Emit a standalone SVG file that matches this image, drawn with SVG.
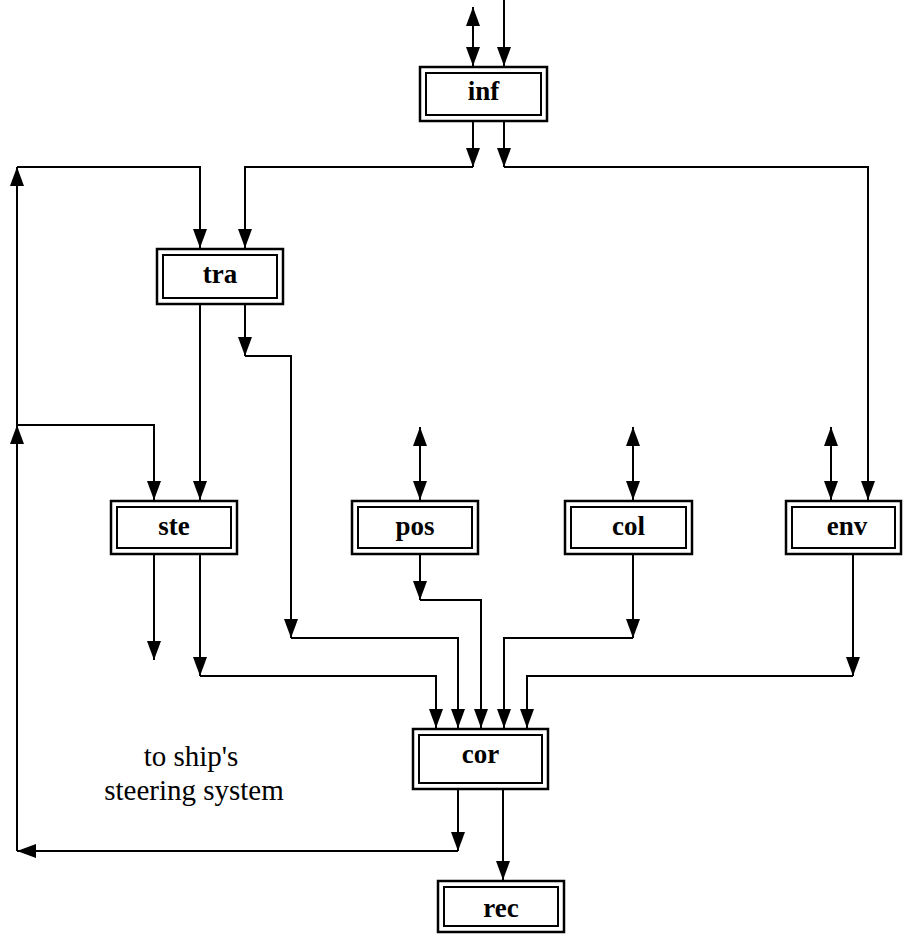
<svg xmlns="http://www.w3.org/2000/svg" width="904" height="935" viewBox="0 0 904 935">
<style>
.ob{fill:#fff;stroke:#000;stroke-width:2.5}
.ib{fill:none;stroke:#000;stroke-width:2}
.lbl{font-family:"Liberation Serif","Times New Roman",serif;font-weight:bold;font-size:27px;text-anchor:middle;fill:#000}
.note{font-family:"Liberation Serif","Times New Roman",serif;font-size:29px;text-anchor:middle;fill:#000}
.c{fill:none;stroke:#000;stroke-width:2}
.a{marker-end:url(#ah)}
.b{marker-start:url(#ah);marker-end:url(#ah)}
</style>
<defs>
<marker id="ah" markerUnits="userSpaceOnUse" markerWidth="19" markerHeight="14" refX="19" refY="7" orient="auto-start-reverse">
<path d="M0,0 L19,7 L0,14 z" fill="#000"/>
</marker>
</defs>
<rect width="904" height="935" fill="#fff"/>
<g id="connectors">
<line class="c b" x1="473" y1="7" x2="473" y2="66"/>
<line class="c a" x1="504" y1="0" x2="504" y2="66"/>
<line class="c a" x1="473" y1="122" x2="473" y2="167"/>
<line class="c a" x1="504" y1="122" x2="504" y2="167"/>
<polyline class="c a" points="473,167 245,167 245,248"/>
<polyline class="c a" points="504,167 868,167 868,500"/>
<line class="c a" x1="458" y1="790" x2="458" y2="851"/>
<line class="c a" x1="458" y1="851" x2="17" y2="851"/>
<line class="c a" x1="17" y1="851" x2="17" y2="425"/>
<line class="c a" x1="17" y1="425" x2="17" y2="167"/>
<polyline class="c a" points="17,167 200,167 200,248"/>
<polyline class="c a" points="17,425 154,425 154,500"/>
<line class="c a" x1="200" y1="305" x2="200" y2="500"/>
<line class="c a" x1="245" y1="305" x2="245" y2="356"/>
<polyline class="c a" points="245,356 291,356 291,638"/>
<polyline class="c a" points="291,638 458,638 458,728"/>
<line class="c a" x1="154" y1="555" x2="154" y2="660"/>
<line class="c a" x1="200" y1="555" x2="200" y2="676"/>
<polyline class="c a" points="200,676 436,676 436,728"/>
<line class="c b" x1="420" y1="427" x2="420" y2="500"/>
<line class="c a" x1="420" y1="555" x2="420" y2="600"/>
<polyline class="c a" points="420,600 481,600 481,728"/>
<line class="c b" x1="633" y1="427" x2="633" y2="500"/>
<line class="c a" x1="633" y1="555" x2="633" y2="638"/>
<polyline class="c a" points="633,638 504,638 504,728"/>
<line class="c b" x1="831" y1="427" x2="831" y2="500"/>
<line class="c a" x1="853" y1="555" x2="853" y2="676"/>
<polyline class="c a" points="853,676 527,676 527,728"/>
<line class="c a" x1="503" y1="790" x2="503" y2="880"/>
</g>
<g id="inf">
<rect class="ob" x="420" y="67" width="127" height="54"/>
<rect class="ib" x="426" y="73" width="115" height="42"/>
<text class="lbl" x="483.5" y="100">inf</text>
</g>
<g id="tra">
<rect class="ob" x="157" y="249" width="126" height="55"/>
<rect class="ib" x="163" y="255" width="114" height="43"/>
<text class="lbl" x="220" y="283">tra</text>
</g>
<g id="ste">
<rect class="ob" x="111" y="501" width="126" height="53"/>
<rect class="ib" x="117" y="507" width="114" height="41"/>
<text class="lbl" x="174" y="535">ste</text>
</g>
<g id="pos">
<rect class="ob" x="352" y="501" width="126" height="53"/>
<rect class="ib" x="358" y="507" width="114" height="41"/>
<text class="lbl" x="415" y="535">pos</text>
</g>
<g id="col">
<rect class="ob" x="565" y="501" width="127" height="53"/>
<rect class="ib" x="571" y="507" width="115" height="41"/>
<text class="lbl" x="628.5" y="535">col</text>
</g>
<g id="env">
<rect class="ob" x="786" y="501" width="115" height="53"/>
<rect class="ib" x="792" y="507" width="103" height="41"/>
<text class="lbl" x="847" y="535">env</text>
</g>
<g id="cor">
<rect class="ob" x="413" y="729" width="135" height="60"/>
<rect class="ib" x="419" y="735" width="123" height="48"/>
<text class="lbl" x="480.5" y="763">cor</text>
</g>
<g id="rec">
<rect class="ob" x="438" y="881" width="126" height="51"/>
<rect class="ib" x="444" y="887" width="114" height="39"/>
<text class="lbl" x="501" y="917">rec</text>
</g>
<g id="note">
<text class="note" x="191" y="766">to ship's</text>
<text class="note" x="194" y="800">steering system</text>
</g>
</svg>
